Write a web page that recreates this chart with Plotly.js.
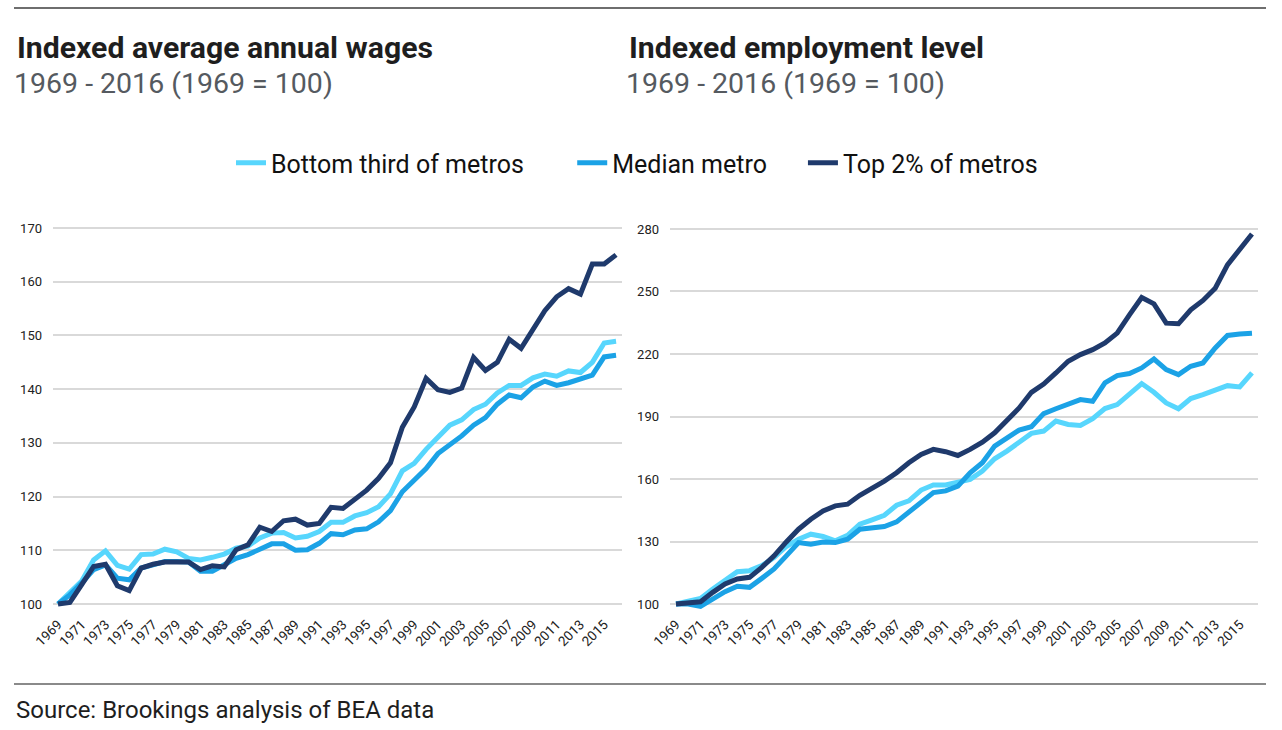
<!DOCTYPE html>
<html>
<head>
<meta charset="utf-8">
<script src="https://cdn.plot.ly/plotly-3.0.1.min.js"></script>
<style>html,body{margin:0;padding:0;background:#fff;}#chart{width:1282px;height:730px;}</style>
</head>
<body>
<div id="chart"></div>
<script>
// ---- Data ----
var years = [1969,1970,1971,1972,1973,1974,1975,1976,1977,1978,1979,1980,1981,1982,1983,1984,1985,1986,1987,1988,1989,1990,1991,1992,1993,1994,1995,1996,1997,1998,1999,2000,2001,2002,2003,2004,2005,2006,2007,2008,2009,2010,2011,2012,2013,2014,2015,2016];
var seriesNames = ["Bottom third of metros", "Median metro", "Top 2% of metros"];

// Indexed average annual wages
var wagesBottom = [100,102.0,104.3,108.2,109.9,107.2,106.5,109.2,109.3,110.2,109.7,108.5,108.2,108.7,109.3,110.4,110.8,112.3,113.2,113.3,112.3,112.6,113.5,115.2,115.2,116.4,117.0,118.1,120.5,124.8,126.2,128.8,130.9,133.3,134.3,136.2,137.2,139.3,140.7,140.7,142.1,142.8,142.4,143.4,143.1,145.0,148.6,148.9];
var wagesMedian = [100,101.7,103.9,106.4,107.3,104.8,104.5,106.7,107.3,107.9,107.9,107.8,106.1,106.1,107.3,108.5,109.2,110.1,111.2,111.2,110.0,110.1,111.3,113.1,112.9,113.8,114.0,115.3,117.4,120.9,123.2,125.2,128.0,129.6,131.3,133.3,134.7,137.2,138.9,138.4,140.4,141.5,140.7,141.2,141.8,142.6,146.0,146.3];
var wagesTop = [100,100.3,103.6,107.0,107.4,103.4,102.5,106.7,107.4,107.8,107.8,107.8,106.4,107.1,106.9,110.1,111.0,114.3,113.5,115.5,115.8,114.7,115.0,118.0,117.8,119.4,121.2,123.4,126.3,132.9,136.7,142.0,139.9,139.4,140.2,145.9,143.5,145.0,149.3,147.6,150.9,154.6,157.2,158.7,157.7,163.3,163.3,165.0];

// Indexed employment level
var empBottom = [100,101.1,102.7,107.2,111.6,115.5,116.0,118.4,122.3,127.6,131.1,133.5,132.4,130.3,133.0,138.3,140.4,142.6,147.4,149.5,154.7,157.1,157.1,158.7,159.8,163.8,169.7,173.4,177.7,181.9,183.0,187.8,186.2,185.7,189.0,193.8,195.7,200.5,205.8,201.6,196.5,193.7,198.6,200.5,202.6,204.8,204.2,210.9];
var empMedian = [100,100,98.9,102.4,105.9,108.5,108.0,112.3,116.8,123.1,129.5,128.7,129.8,129.5,131.1,135.9,136.7,137.2,139.4,144.2,149.0,153.5,154.3,156.6,163.0,167.8,175.8,179.8,183.5,185.1,191.4,193.7,195.7,198.1,197.3,206.1,209.6,210.6,213.3,217.6,212.5,210.1,214.1,215.7,222.9,228.9,229.6,230.0];
var empTop = [100,100.8,101.1,105.6,109.6,112.0,112.8,117.6,123.1,129.8,135.9,140.7,144.7,147.1,147.9,152.2,155.4,159.0,163.0,167.8,171.8,174.2,173.1,171.3,174.2,177.7,182.2,187.8,194.1,201.6,205.6,210.9,216.5,219.7,222.1,225.3,230.0,238.8,247.1,244.1,234.8,234.5,241.2,245.7,251.6,262.8,270.3,277.6];

var xTickVals = [1969,1971,1973,1975,1977,1979,1981,1983,1985,1987,1989,1991,1993,1995,1997,1999,2001,2003,2005,2007,2009,2011,2013,2015];
var xTickText = xTickVals.map(String);
var wagesTicks = [100,110,120,130,140,150,160,170];
var empTicks = [100,130,160,190,220,250,280];

var colors = ["#57d6fd", "#1ba2e6", "#1f3a6c"];
var legendPad = ["\u00a0\u00a0\u00a0\u00a0\u00a0\u00a0\u00a0", "\u00a0\u00a0\u00a0\u00a0\u00a0", ""];

// ---- Traces ----
function mk(y, i, xa, ya, show) {
  return {x: years, y: y, type: "scatter", mode: "lines", name: seriesNames[i] + legendPad[i],
    xaxis: xa, yaxis: ya, showlegend: show,
    line: {color: colors[i], width: 5, shape: "linear"}, hoverinfo: "x+y"};
}
var data = [
  mk(wagesBottom, 0, "x", "y", true),
  mk(wagesMedian, 1, "x", "y", true),
  mk(wagesTop, 2, "x", "y", true),
  mk(empBottom, 0, "x2", "y2", false),
  mk(empMedian, 1, "x2", "y2", false),
  mk(empTop, 2, "x2", "y2", false)
];

var W = 1282, H = 730;
function px(x){return x/W;}
function py(y){return 1 - y/H;}
var yDom = [py(611), py(222.7)];
var fontFam = "Roboto, 'Open Sans', sans-serif";

var xBase = {tickvals: xTickVals, ticktext: xTickText, tickangle: -45, showgrid: false, zeroline: false,
  showline: false, ticks: "", tickfont: {family: fontFam, size: 13.5, color: "#222"}, ticklabelstandoff: 2, fixedrange: true};
var yBase = {showgrid: true, gridcolor: "#d9d9d9", gridwidth: 2, zeroline: false, showline: false, ticks: "",
  tickfont: {family: fontFam, size: 13, color: "#222"}, ticklabelstandoff: 10, fixedrange: true};

var layout = {
  width: W, height: H,
  margin: {l: 0, r: 0, t: 0, b: 0},
  paper_bgcolor: "#fff", plot_bgcolor: "#fff",
  font: {family: fontFam, color: "#222"},
  showlegend: true,
  legend: {orientation: "h", x: px(231), xanchor: "left", y: py(163), yanchor: "middle",
    font: {family: fontFam, size: 25, color: "#111"}, bgcolor: "rgba(0,0,0,0)"},
  xaxis: Object.assign({}, xBase, {domain: [px(53), px(622)], range: [1968.58, 2016.5], anchor: "y"}),
  yaxis: Object.assign({}, yBase, {domain: yDom, range: [98.70, 170.99], tickvals: wagesTicks, anchor: "x"}),
  xaxis2: Object.assign({}, xBase, {domain: [px(670), px(1258)], range: [1968.51, 2016.49], anchor: "y2"}),
  yaxis2: Object.assign({}, yBase, {domain: yDom, range: [96.64, 283.02], tickvals: empTicks, anchor: "x2"}),
  shapes: [
    {type: "line", xref: "paper", yref: "paper", x0: px(14), x1: px(1266), y0: py(8), y1: py(8), line: {color: "#6e6e6e", width: 2}},
    {type: "line", xref: "paper", yref: "paper", x0: px(14), x1: px(1266), y0: py(684), y1: py(684), line: {color: "#8a8a8a", width: 2}}
  ],
  annotations: [
    {xref: "paper", yref: "paper", x: px(15), y: py(47), xanchor: "left", yanchor: "middle", showarrow: false,
      text: "<b>Indexed average annual wages</b>", font: {family: fontFam, size: 30.2, color: "#1e1e1e"}},
    {xref: "paper", yref: "paper", x: px(12), y: py(83), xanchor: "left", yanchor: "middle", showarrow: false,
      text: "1969 - 2016 (1969 = 100)", font: {family: fontFam, size: 28.5, color: "#555a60"}},
    {xref: "paper", yref: "paper", x: px(627), y: py(47), xanchor: "left", yanchor: "middle", showarrow: false,
      text: "<b>Indexed employment level</b>", font: {family: fontFam, size: 30.2, color: "#1e1e1e"}},
    {xref: "paper", yref: "paper", x: px(624), y: py(83), xanchor: "left", yanchor: "middle", showarrow: false,
      text: "1969 - 2016 (1969 = 100)", font: {family: fontFam, size: 28.5, color: "#555a60"}},
    {xref: "paper", yref: "paper", x: px(14), y: py(710), xanchor: "left", yanchor: "middle", showarrow: false,
      text: "Source: Brookings analysis of BEA data", font: {family: fontFam, size: 24, color: "#1e1e1e"}}
  ]
};

Plotly.newPlot("chart", data, layout, {displayModeBar: false, staticPlot: true});
</script>
</body>
</html>
